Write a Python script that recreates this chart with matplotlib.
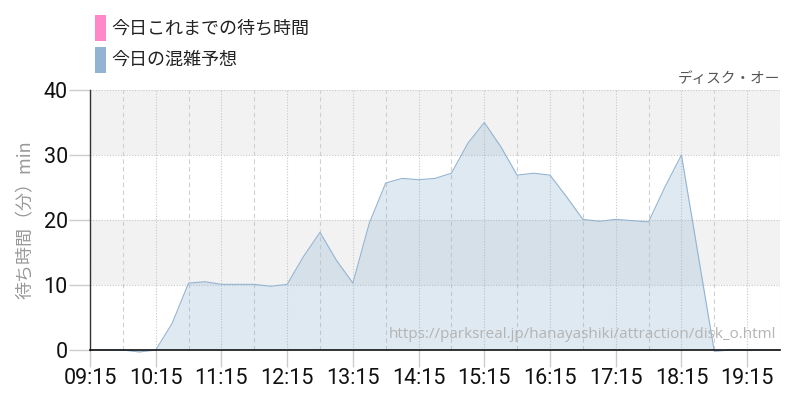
import matplotlib
matplotlib.use("Agg")
import matplotlib.pyplot as plt
from matplotlib.patches import Rectangle

# forecast of waiting time, every 15 minutes
times = ["09:15", "09:30", "09:45", "10:00", "10:15", "10:30", "10:45", "11:00",
         "11:15", "11:30", "11:45", "12:00", "12:15", "12:30", "12:45", "13:00",
         "13:15", "13:30", "13:45", "14:00", "14:15", "14:30", "14:45", "15:00",
         "15:15", "15:30", "15:45", "16:00", "16:15", "16:30", "16:45", "17:00",
         "17:15", "17:30", "17:45", "18:00", "18:15", "18:30", "18:45", "19:00",
         "19:15", "19:30", "19:45"]
forecast = [0.0, 0.0, 0.0, -0.3, 0.0, 4.1, 10.3, 10.5,
            10.1, 10.1, 10.1, 9.8, 10.1, 14.4, 18.1, 13.8,
            10.3, 19.5, 25.7, 26.4, 26.2, 26.4, 27.2, 31.8,
            35.0, 31.3, 26.9, 27.2, 26.9, 23.6, 20.1, 19.8,
            20.1, 19.9, 19.7, 25.1, 30.0, 14.9, -0.2, 0.0,
            0.0, 0.0, 0.0]
# today's actual waiting time (no data yet)
actual_times = []
actual = []

hour_ticks = ["09:15", "10:15", "11:15", "12:15", "13:15", "14:15",
              "15:15", "16:15", "17:15", "18:15", "19:15"]
y_ticks = [0, 10, 20, 30, 40]

legend_labels = ["今日これまでの待ち時間", "今日の混雑予想"]
attraction = "ディスク・オー"
source_url = "https://parksreal.jp/hanayashiki/attraction/disk_o.html"

PINK = "#ff88c8"
BLUE = "#92b4d2"
JP = ["Noto Sans CJK JP", "DejaVu Sans"]
NARROW = ["Roboto", "DejaVu Sans"]


def to_min(t):
    h, m = t.split(":")
    return int(h) * 60 + int(m)


x = [to_min(t) for t in times]
xa = [to_min(t) for t in actual_times]
x0 = to_min("09:15")
x1 = to_min("19:45")

fig = plt.figure(figsize=(8, 4), dpi=100)
ax = fig.add_axes([0.1125, 0.125, 0.8625, 0.65])

# alternating background bands
for lo in (10, 30):
    ax.axhspan(lo, lo + 10, color="#f2f2f2", zorder=0, lw=0)
for v in y_ticks[1:]:
    ax.axhline(v, color="#c8c8c8", lw=0.8, ls=(0, (1, 1.5)), zorder=1)
for t in range(x0, x1 + 1, 30):
    if (t - x0) % 60 == 0:
        ax.axvline(t, color="#c8c8c8", lw=0.8, ls=(0, (1, 1.5)), zorder=1)
    else:
        ax.axvline(t, color="#d0d0d0", lw=0.8, ls=(0, (4, 3)), zorder=1)

ax.fill_between(x, forecast, 0, color=BLUE, alpha=0.29, lw=0, zorder=2, clip_on=False)
ax.plot(x, forecast, color=BLUE, lw=0.8, zorder=3, clip_on=False)
if actual:
    ax.plot(xa, actual, color=PINK, lw=1.5, zorder=4)

ax.set_xlim(x0, x1)
ax.set_ylim(0, 40)
ax.set_xticks([to_min(t) for t in hour_ticks])
ax.set_xticklabels(hour_ticks, family=NARROW, fontsize=15.5, color="#111111")
ax.set_yticks(y_ticks)
ax.set_yticklabels([str(v) for v in y_ticks], family=NARROW, fontsize=15.5, color="#111111")
ax.tick_params(axis="x", length=12, width=1, color="#cccccc", pad=1)
ax.tick_params(axis="y", length=15, width=1, color="#cccccc", pad=1)

for side in ("top", "right"):
    ax.spines[side].set_visible(False)
ax.spines["left"].set_color("#333333")
ax.spines["bottom"].set_color("#111111")
ax.spines["left"].set_linewidth(1)
ax.spines["bottom"].set_linewidth(1.2)
ax.spines["left"].set_zorder(5)
ax.spines["bottom"].set_zorder(5)

ax.set_ylabel("待ち時間（分）min", family=JP, fontsize=13, color="#999999", labelpad=6)

ax.text(0.995, 0.03, source_url, transform=ax.transAxes, ha="right", va="bottom",
        family=["Open Sans", "DejaVu Sans"], fontsize=11, color="#b4b4b4", zorder=6)
fig.text(0.975, 0.785, attraction, ha="right", va="bottom", family=JP,
         fontsize=10.5, color="#555555")

# legend drawn by hand
for i, (lab, col) in enumerate(zip(legend_labels, [PINK, BLUE])):
    top = 1 - 15 / 400 - i * 32 / 400
    fig.patches.append(Rectangle((95 / 800, top - 26 / 400), 11 / 800, 26 / 400,
                                 transform=fig.transFigure, color=col, lw=0))
    fig.text(111 / 800, top - 13 / 400, lab, family=JP, fontsize=13,
             color="#222222", va="center", ha="left")

fig.savefig("out.png", dpi=100)
